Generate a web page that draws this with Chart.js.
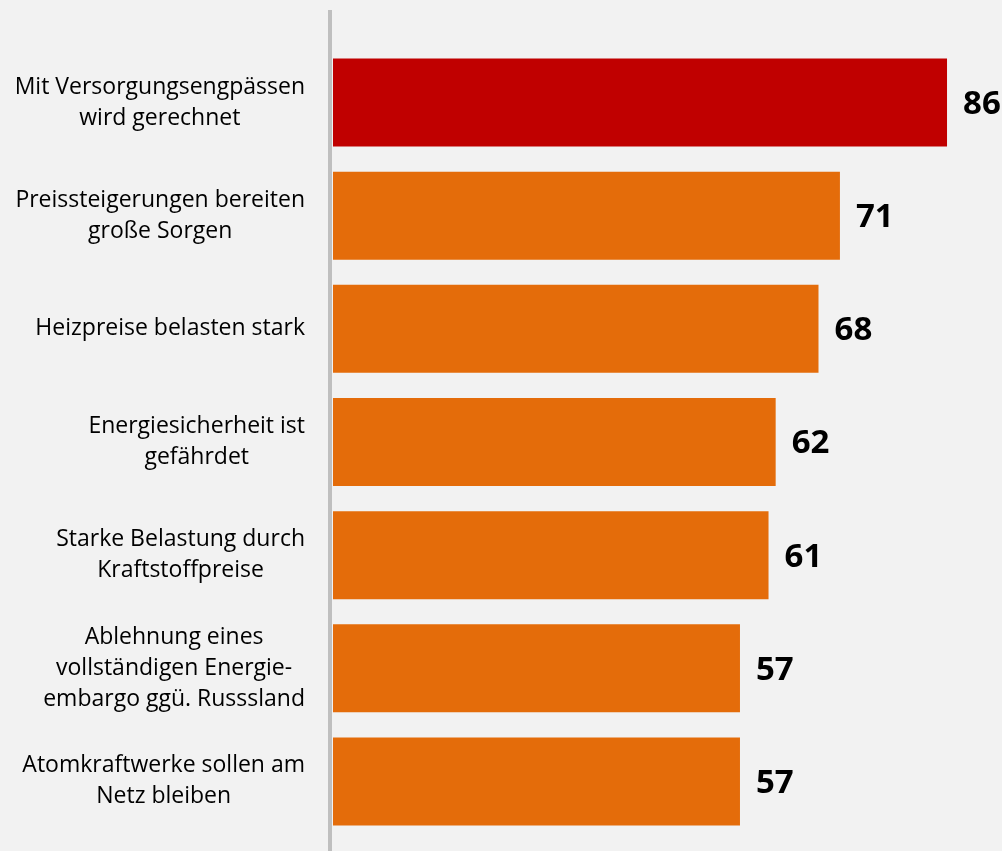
<!DOCTYPE html>
<html>
<head>
<meta charset="utf-8">
<script src="https://cdn.jsdelivr.net/npm/chart.js"></script>
<style>
  html, body { margin: 0; padding: 0; background: #f2f2f2; }
  #wrap { width: 1002px; height: 851px; position: relative; }
</style>
</head>
<body>
<div id="wrap"><canvas id="chart1"></canvas></div>
<script>
// data
const labels = [
    ['Mit Versorgungsengpässen', 'wird gerechnet'],
    ['Preissteigerungen bereiten', 'große Sorgen'],
    ['Heizpreise belasten stark'],
    ['Energiesicherheit ist', 'gefährdet'],
    ['Starke Belastung durch', 'Kraftstoffpreise'],
    ['Ablehnung eines', 'vollständigen Energie-', 'embargo ggü. Russsland'],
    ['Atomkraftwerke sollen am', 'Netz bleiben']
];
const values = [86, 71, 68, 62, 61, 57, 57];
const barColors = ['#c00000', '#e46c0a', '#e46c0a', '#e46c0a', '#e46c0a', '#e46c0a', '#e46c0a'];

const labelFont = '23px "Open Sans"';
const valueFont = 'bold 33px "Open Sans"';

// category labels, lines centred inside each block, block right aligned
const sideLabels = {
    id: 'sideLabels',
    afterDraw(chart) {
        const c = chart.ctx;
        const y = chart.scales.y;
        c.save();
        c.font = labelFont;
        c.fillStyle = '#000000';
        c.textBaseline = 'middle';
        c.textAlign = 'center';
        const lh = 31;
        labels.forEach((lines, i) => {
            const w = Math.max(...lines.map(l => c.measureText(l).width));
            const cx = 305 - w / 2;
            const cy = y.getPixelForValue(i);
            lines.forEach((l, k) => {
                c.fillText(l, cx, cy + (k - (lines.length - 1) / 2) * lh);
            });
        });
        c.restore();
    }
};

// values next to the bar ends
const valueLabels = {
    id: 'valueLabels',
    afterDatasetsDraw(chart) {
        const c = chart.ctx;
        const meta = chart.getDatasetMeta(0);
        c.save();
        c.font = valueFont;
        c.fillStyle = '#000000';
        c.textBaseline = 'middle';
        c.textAlign = 'left';
        meta.data.forEach((bar, i) => {
            c.fillText(values[i], bar.x + 16, bar.y + 2);
        });
        c.restore();
    }
};

// grey vertical axis line
const axisLine = {
    id: 'axisLine',
    afterDraw(chart) {
        const c = chart.ctx;
        const x = chart.scales.x.getPixelForValue(0) - 3;
        c.save();
        c.strokeStyle = '#bfbfbf';
        c.lineWidth = 4;
        c.beginPath();
        c.moveTo(x, 10);
        c.lineTo(x, 851);
        c.stroke();
        c.restore();
    }
};

new Chart(document.getElementById('chart1'), {
    type: 'bar',
    data: {
        labels: labels,
        datasets: [{
            data: values,
            backgroundColor: barColors,
            borderWidth: 0,
            categoryPercentage: 1,
            barPercentage: 0.778
        }]
    },
    options: {
        indexAxis: 'y',
        responsive: true,
        maintainAspectRatio: false,
        animation: false,
        layout: {
            padding: { left: 333, right: 0, top: 46, bottom: 13 }
        },
        scales: {
            x: {
                min: 0,
                max: 93.7,
                display: false
            },
            y: {
                display: false
            }
        },
        plugins: {
            legend: { display: false },
            tooltip: { enabled: false }
        }
    },
    plugins: [sideLabels, valueLabels, axisLine]
});
</script>
</body>
</html>
